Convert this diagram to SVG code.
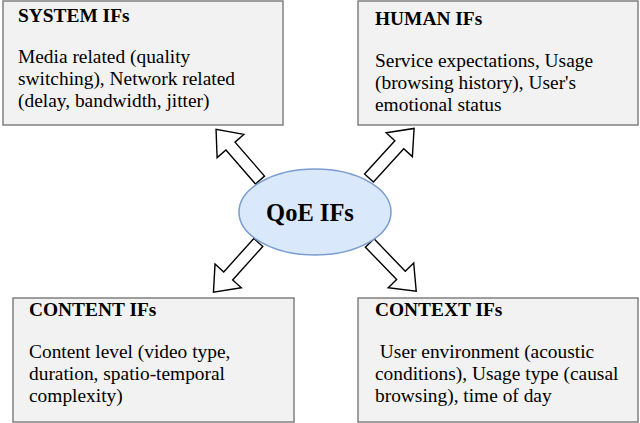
<svg xmlns="http://www.w3.org/2000/svg" xmlns:xlink="http://www.w3.org/1999/xlink" width="640" height="423" viewBox="0 0 640 423">
<style>
.box{fill:#f2f2f2;stroke:#808080;stroke-width:1.5}
.t{font-family:"Liberation Serif","Times New Roman",serif;font-size:19.4px;fill:#000}
.b{font-weight:bold}
.arr{fill:#fff;stroke:#000;stroke-width:1.4;stroke-linejoin:miter}
</style>
<defs>
<polygon id="ba" points="0,-6 45,-6 45,-17.7 67,0 45,17.7 45,6 0,6"/>
</defs>
<rect width="640" height="423" fill="#fff"/>
<g id="connectors">
<use xlink:href="#ba" class="arr" transform="translate(260,180) rotate(-131)"/>
<use xlink:href="#ba" class="arr" transform="translate(369,178) rotate(-47.7)"/>
<use xlink:href="#ba" class="arr" transform="translate(258.3,242.5) rotate(132)"/>
<use xlink:href="#ba" class="arr" transform="translate(369.7,243) rotate(46)"/>
</g>
<g id="system">
<rect class="box" x="3" y="1" width="280" height="124"/>
<text class="t b" x="18" y="22">SYSTEM IFs</text>
<text class="t" x="18" y="63">Media related (quality</text>
<text class="t" x="18" y="85">switching), Network related</text>
<text class="t" x="18" y="107">(delay, bandwidth, jitter)</text>
</g>
<g id="human">
<rect class="box" x="358" y="1" width="280" height="124"/>
<text class="t b" x="375" y="25">HUMAN IFs</text>
<text class="t" x="375" y="67">Service expectations, Usage</text>
<text class="t" x="375" y="89">(browsing history), User's</text>
<text class="t" x="375" y="111">emotional status</text>
</g>
<g id="content">
<rect class="box" x="13" y="298" width="281" height="124"/>
<text class="t b" x="29" y="316">CONTENT IFs</text>
<text class="t" x="29" y="358">Content level (video type,</text>
<text class="t" x="29" y="380">duration, spatio-temporal</text>
<text class="t" x="29" y="402">complexity)</text>
</g>
<g id="context">
<rect class="box" x="358" y="298" width="280" height="124"/>
<text class="t b" x="375" y="316">CONTEXT IFs</text>
<text class="t" x="375" y="358" xml:space="preserve"> User environment (acoustic</text>
<text class="t" x="375" y="380">conditions), Usage type (causal</text>
<text class="t" x="375" y="402">browsing), time of day</text>
</g>
<g id="qoe">
<ellipse cx="315" cy="212" rx="76" ry="43" fill="#dae8fc" stroke="#7a9cd0" stroke-width="1.5"/>
<text class="t b" x="310" y="221" text-anchor="middle" style="font-size:24.5px">QoE IFs</text>
</g>
</svg>
